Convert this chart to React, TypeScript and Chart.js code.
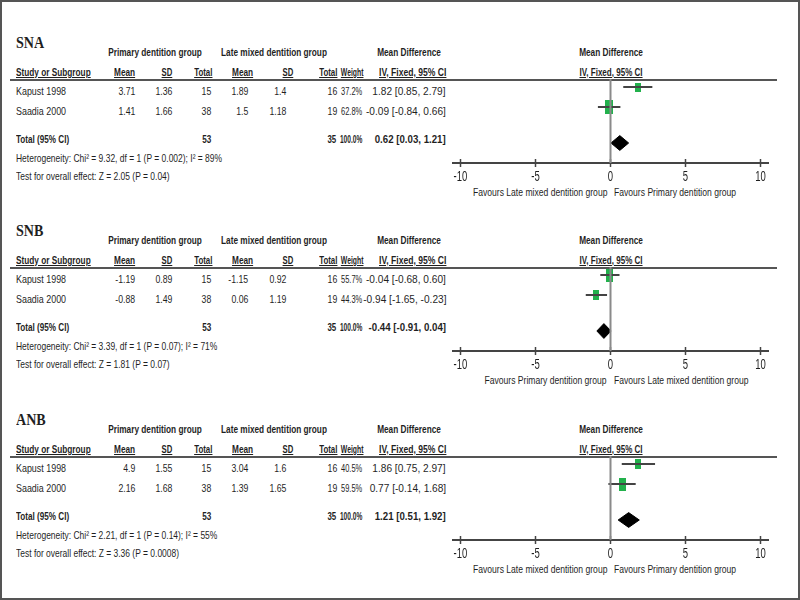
import React, { useEffect, useRef } from "react";
import { Chart, registerables } from "chart.js";
Chart.register(...registerables);

// ---------------- data ----------------
const STUDIES = ["Kapust 1998", "Saadia 2000"];
const PRIMARY_N = [15, 38];
const LATE_N = [16, 19];
const PRIMARY_TOTAL = 53;
const LATE_TOTAL = 35;
const X_TICKS = [-10, -5, 0, 5, 10];

const SNA_PRIMARY_MEAN = [3.71, 1.41];
const SNA_PRIMARY_SD = [1.36, 1.66];
const SNA_LATE_MEAN = [1.89, 1.5];
const SNA_LATE_SD = [1.4, 1.18];
const SNA_WEIGHT = [37.2, 62.8];
const SNA_MD = [1.82, -0.09];
const SNA_CI_LOW = [0.85, -0.84];
const SNA_CI_HIGH = [2.79, 0.66];
const SNA_POOLED = [0.62, 0.03, 1.21];
const SNA_HETEROGENEITY = "Heterogeneity: Chi² = 9.32, df = 1 (P = 0.002); I² = 89%";
const SNA_OVERALL = "Test for overall effect: Z = 2.05 (P = 0.04)";
const SNA_FAVOURS = ["Favours Late mixed dentition group", "Favours Primary dentition group"];

const SNB_PRIMARY_MEAN = [-1.19, -0.88];
const SNB_PRIMARY_SD = [0.89, 1.49];
const SNB_LATE_MEAN = [-1.15, 0.06];
const SNB_LATE_SD = [0.92, 1.19];
const SNB_WEIGHT = [55.7, 44.3];
const SNB_MD = [-0.04, -0.94];
const SNB_CI_LOW = [-0.68, -1.65];
const SNB_CI_HIGH = [0.6, -0.23];
const SNB_POOLED = [-0.44, -0.91, 0.04];
const SNB_HETEROGENEITY = "Heterogeneity: Chi² = 3.39, df = 1 (P = 0.07); I² = 71%";
const SNB_OVERALL = "Test for overall effect: Z = 1.81 (P = 0.07)";
const SNB_FAVOURS = ["Favours Primary dentition group", "Favours Late mixed dentition group"];

const ANB_PRIMARY_MEAN = [4.9, 2.16];
const ANB_PRIMARY_SD = [1.55, 1.68];
const ANB_LATE_MEAN = [3.04, 1.39];
const ANB_LATE_SD = [1.6, 1.65];
const ANB_WEIGHT = [40.5, 59.5];
const ANB_MD = [1.86, 0.77];
const ANB_CI_LOW = [0.75, -0.14];
const ANB_CI_HIGH = [2.97, 1.68];
const ANB_POOLED = [1.21, 0.51, 1.92];
const ANB_HETEROGENEITY = "Heterogeneity: Chi² = 2.21, df = 1 (P = 0.14); I² = 55%";
const ANB_OVERALL = "Test for overall effect: Z = 3.36 (P = 0.0008)";
const ANB_FAVOURS = ["Favours Late mixed dentition group", "Favours Primary dentition group"];

const PANELS = [
  { title: "SNA", pm: SNA_PRIMARY_MEAN, psd: SNA_PRIMARY_SD, lm: SNA_LATE_MEAN, lsd: SNA_LATE_SD, w: SNA_WEIGHT, md: SNA_MD, lo: SNA_CI_LOW, hi: SNA_CI_HIGH, pooled: SNA_POOLED, het: SNA_HETEROGENEITY, test: SNA_OVERALL, fav: SNA_FAVOURS },
  { title: "SNB", pm: SNB_PRIMARY_MEAN, psd: SNB_PRIMARY_SD, lm: SNB_LATE_MEAN, lsd: SNB_LATE_SD, w: SNB_WEIGHT, md: SNB_MD, lo: SNB_CI_LOW, hi: SNB_CI_HIGH, pooled: SNB_POOLED, het: SNB_HETEROGENEITY, test: SNB_OVERALL, fav: SNB_FAVOURS },
  { title: "ANB", pm: ANB_PRIMARY_MEAN, psd: ANB_PRIMARY_SD, lm: ANB_LATE_MEAN, lsd: ANB_LATE_SD, w: ANB_WEIGHT, md: ANB_MD, lo: ANB_CI_LOW, hi: ANB_CI_HIGH, pooled: ANB_POOLED, het: ANB_HETEROGENEITY, test: ANB_OVERALL, fav: ANB_FAVOURS },
];

// ---------------- layout ----------------
const PANEL_OFFSETS = [0, 188, 377];
const FONT = "'Liberation Sans', Arial, sans-serif";
const HEAD_SQ = 0.75;
const BODY_SQ = 0.79;
const TICK_SQUEEZE = 0.68;
const TEXT = "#1f1f1f";
const GREEN = "#22b14c";
const ROW_Y = [0.4, 1.4]; // y units of forest area (20px per unit)
const TOTAL_Y = 3.2;
const AXIS_Y = 4.2;

Chart.defaults.font.family = FONT;

const fmt2 = (v: number) => v.toFixed(2);
const ci = (m: number, l: number, h: number) => `${fmt2(m)} [${fmt2(l)}, ${fmt2(h)}]`;

type TProps = { x: number; y: number; align?: "left" | "right" | "center"; bold?: boolean; underline?: boolean; size?: number; serif?: boolean; sq?: number; children: React.ReactNode };
function T({ x, y, align = "left", bold, underline, size = 11, serif, sq, children }: TProps) {
  const squeeze = sq ?? (bold ? HEAD_SQ : BODY_SQ);
  const lh = size + 4;
  const asc = serif ? 0.891 : 0.905;
  const desc = serif ? 0.216 : 0.212;
  const top = y - (lh - size * (asc + desc)) / 2 - size * asc;
  const style: React.CSSProperties = {
    position: "absolute",
    top,
    whiteSpace: "nowrap",
    fontFamily: serif ? "'Liberation Serif', 'Times New Roman', serif" : FONT,
    fontSize: size,
    lineHeight: `${lh}px`,
    fontWeight: bold ? "bold" : "normal",
    textDecoration: underline ? "underline" : "none",
    color: TEXT,
  };
  if (align === "left") {
    style.left = x;
    style.transformOrigin = "left center";
    style.transform = `scaleX(${squeeze})`;
  } else if (align === "right") {
    style.right = 800 - x;
    style.transformOrigin = "right center";
    style.transform = `scaleX(${squeeze})`;
  } else {
    style.left = x;
    style.transformOrigin = "center center";
    style.transform = `translateX(-50%) scaleX(${squeeze})`;
  }
  return <div style={style}>{children}</div>;
}

function makeSquare(weight: number) {
  const w = Math.round(3 + weight * 0.075);
  const h = Math.round(2 + weight * 0.19);
  const c = document.createElement("canvas");
  c.width = w;
  c.height = h;
  const ctx = c.getContext("2d")!;
  ctx.fillStyle = GREEN;
  ctx.fillRect(0, 0, w, h);
  return c;
}

const condensedTicks = {
  id: "condensedTicks",
  afterDraw(chart: any) {
    const s = chart.scales.x;
    const ctx = chart.ctx;
    ctx.save();
    ctx.font = `14px ${FONT}`;
    ctx.fillStyle = TEXT;
    ctx.textAlign = "center";
    ctx.textBaseline = "alphabetic";
    s.ticks.forEach((t: any) => {
      const x = s.getPixelForValue(t.value);
      ctx.save();
      ctx.translate(x, s.top + 18);
      ctx.scale(TICK_SQUEEZE, 1);
      ctx.fillText(String(t.value), 0, 0);
      ctx.restore();
    });
    ctx.restore();
  },
};

function Forest({ p, off }: { p: (typeof PANELS)[number]; off: number }) {
  const ref = useRef<HTMLCanvasElement>(null);
  useEffect(() => {
    if (!ref.current) return;
    const datasets: any[] = [];
    datasets.push({
      data: [{ x: 0, y: 0 }, { x: 0, y: AXIS_Y }],
      showLine: true, borderColor: "#8a8a8a", borderWidth: 2, pointRadius: 0, clip: false,
    });
    STUDIES.forEach((_, i) => {
      datasets.push({
        data: [{ x: p.lo[i], y: ROW_Y[i] }, { x: p.hi[i], y: ROW_Y[i] }],
        showLine: true, borderColor: "#444", borderWidth: 2, pointRadius: 0,
      });
    });
    STUDIES.forEach((_, i) => {
      datasets.push({
        data: [{ x: p.md[i], y: ROW_Y[i] }],
        pointStyle: makeSquare(p.w[i]), pointRadius: 5, showLine: false,
      });
    });
    const [est, lo, hi] = p.pooled;
    const hh = 0.37;
    datasets.push({
      data: [
        { x: lo, y: TOTAL_Y }, { x: est, y: TOTAL_Y - hh }, { x: hi, y: TOTAL_Y },
        { x: est, y: TOTAL_Y + hh }, { x: lo, y: TOTAL_Y },
      ],
      showLine: true, fill: "shape", backgroundColor: "#000", borderColor: "#000", borderWidth: 1, pointRadius: 0,
    });
    datasets.push({
      data: X_TICKS.map((v) => ({ x: v, y: AXIS_Y })),
      showLine: false, pointStyle: "line", rotation: 90, pointRadius: 4,
      borderColor: "#444", borderWidth: 1.5, clip: false,
    });
    const chart = new Chart(ref.current, {
      type: "scatter",
      data: { datasets },
      plugins: [condensedTicks],
      options: {
        animation: false,
        responsive: false,
        maintainAspectRatio: false,
        layout: { padding: { left: 20, right: 20, top: 10, bottom: 4 } },
        plugins: { legend: { display: false }, tooltip: { enabled: false } },
        scales: {
          x: {
            type: "linear", min: -10.5, max: 10.5,
            afterBuildTicks: (s: any) => { s.ticks = X_TICKS.map((v) => ({ value: v })); },
            afterFit: (s: any) => { s.height = 24; },
            grid: { display: false, drawTicks: false },
            border: { display: true, color: "#444", width: 2 },
            ticks: { display: false },
          },
          y: { type: "linear", min: 0, max: AXIS_Y, reverse: true, display: false },
        },
      } as any,
    });
    return () => chart.destroy();
  }, [p]);
  return (
    <canvas
      ref={ref}
      width={355}
      height={122}
      style={{ position: "absolute", left: 433, top: 69 + off, width: 355, height: 122 }}
    />
  );
}

function Panel({ p, off }: { p: (typeof PANELS)[number]; off: number }) {
  const Y = (v: number) => v + off;
  return (
    <>
      <T x={16} y={Y(48)} size={16} bold serif sq={0.88}>{p.title}</T>
      <T x={155} y={Y(56)} align="center" bold>Primary dentition group</T>
      <T x={274} y={Y(56)} align="center" bold>Late mixed dentition group</T>
      <T x={409} y={Y(56)} align="center" bold>Mean Difference</T>
      <T x={611} y={Y(56)} align="center" bold>Mean Difference</T>

      <T x={16} y={Y(76)} bold underline>Study or Subgroup</T>
      <T x={135} y={Y(76)} align="right" bold underline>Mean</T>
      <T x={172} y={Y(76)} align="right" bold underline sq={0.7}>SD</T>
      <T x={212} y={Y(76)} align="right" bold underline sq={0.72}>Total</T>
      <T x={253} y={Y(76)} align="right" bold underline>Mean</T>
      <T x={293} y={Y(76)} align="right" bold underline sq={0.7}>SD</T>
      <T x={337} y={Y(76)} align="right" bold underline sq={0.72}>Total</T>
      <T x={363} y={Y(76)} align="right" bold underline sq={0.62}>Weight</T>
      <T x={446} y={Y(76)} align="right" bold underline sq={0.78}>IV, Fixed, 95% CI</T>
      <T x={611} y={Y(76)} align="center" bold underline sq={0.73}>IV, Fixed, 95% CI</T>

      <div style={{ position: "absolute", left: 10, top: Y(79), width: 767, height: 2, background: "#555" }} />

      {STUDIES.map((s, i) => {
        const by = Y(95.5 + i * 20);
        return (
          <React.Fragment key={s}>
            <T x={16} y={by} sq={0.81}>{s}</T>
            <T x={135} y={by} align="right">{String(p.pm[i])}</T>
            <T x={172} y={by} align="right">{String(p.psd[i])}</T>
            <T x={211} y={by} align="right">{String(PRIMARY_N[i])}</T>
            <T x={248} y={by} align="right">{String(p.lm[i])}</T>
            <T x={286} y={by} align="right">{String(p.lsd[i])}</T>
            <T x={337} y={by} align="right">{String(LATE_N[i])}</T>
            <T x={362} y={by} align="right" sq={0.68}>{p.w[i].toFixed(1)}%</T>
            <T x={446} y={by} align="right" sq={0.92}>{ci(p.md[i], p.lo[i], p.hi[i])}</T>
          </React.Fragment>
        );
      })}

      <T x={16} y={Y(143.3)} bold sq={0.74}>Total (95% CI)</T>
      <T x={211} y={Y(143.3)} align="right" bold sq={0.74}>{String(PRIMARY_TOTAL)}</T>
      <T x={336} y={Y(143.3)} align="right" bold sq={0.72}>{String(LATE_TOTAL)}</T>
      <T x={362} y={Y(143.3)} align="right" bold sq={0.6}>{(p.w[0] + p.w[1]).toFixed(1)}%</T>
      <T x={446} y={Y(143.3)} align="right" bold sq={0.88}>{ci(p.pooled[0], p.pooled[1], p.pooled[2])}</T>
      <T x={16} y={Y(162.3)} sq={0.77}>{p.het}</T>
      <T x={16} y={Y(180.7)} sq={0.77}>{p.test}</T>

      <T x={607} y={Y(196.5)} align="right" sq={0.78}>{p.fav[0]}</T>
      <T x={614} y={Y(196.5)} sq={0.78}>{p.fav[1]}</T>

      <Forest p={p} off={off} />
    </>
  );
}

export default function App() {
  return (
    <div style={{ position: "fixed", left: 0, top: 0, width: 800, height: 600, background: "#fff", overflow: "hidden" }}>
      {PANELS.map((p, i) => (
        <Panel key={p.title} p={p} off={PANEL_OFFSETS[i]} />
      ))}
      <div style={{ position: "absolute", left: 0, top: 0, width: 800, height: 600, boxSizing: "border-box", border: "2px solid #555", pointerEvents: "none" }} />
    </div>
  );
}
